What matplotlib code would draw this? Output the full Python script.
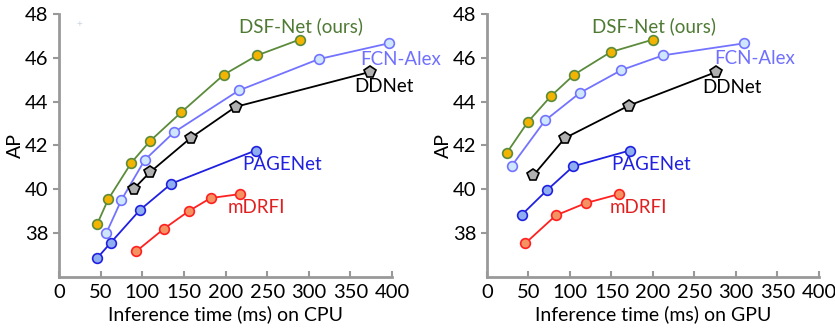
import matplotlib
matplotlib.use('Agg')
import matplotlib.pyplot as plt

plt.rcParams['font.family'] = ['Lato', 'DejaVu Sans']

# CPU timings (ms) and AP
cpu_dsf_t = [46, 59, 87, 109, 147, 198, 238, 289]
cpu_dsf_ap = [38.43, 39.54, 41.22, 42.19, 43.52, 45.23, 46.11, 46.83]
cpu_fcn_t = [57, 75, 103, 138, 216, 312, 396]
cpu_fcn_ap = [38.02, 39.52, 41.34, 42.60, 44.51, 45.94, 46.66]
cpu_dd_t = [90, 109, 158, 212, 373]
cpu_dd_ap = [40.03, 40.77, 42.34, 43.76, 45.35]
cpu_page_t = [46, 62, 97, 135, 236]
cpu_page_ap = [36.87, 37.56, 39.05, 40.26, 41.77]
cpu_mdrfi_t = [93, 126, 156, 182, 217]
cpu_mdrfi_ap = [37.18, 38.20, 39.01, 39.60, 39.78]

# GPU timings (ms) and AP
gpu_dsf_t = [24, 49, 77, 105, 149, 200]
gpu_dsf_ap = [41.67, 43.06, 44.25, 45.23, 46.26, 46.83]
gpu_fcn_t = [30, 70, 112, 162, 212, 310]
gpu_fcn_ap = [41.08, 43.14, 44.40, 45.44, 46.11, 46.66]
gpu_dd_t = [56, 94, 171, 276]
gpu_dd_ap = [40.64, 42.34, 43.82, 45.35]
gpu_page_t = [42, 72, 104, 172]
gpu_page_ap = [38.84, 39.95, 41.05, 41.77]
gpu_mdrfi_t = [46, 83, 119, 159]
gpu_mdrfi_ap = [37.53, 38.81, 39.37, 39.78]

names = ['DSF-Net (ours)', 'FCN-Alex', 'DDNet', 'PAGENet', 'mDRFI']
cpu_label_pos = [(216, 47.42), (362, 45.9), (355, 44.68), (220, 41.12), (203, 39.19)]
gpu_label_pos = [(127, 47.42), (274, 45.97), (259, 44.65), (150, 41.12), (148, 39.19)]

# line color, marker face, marker, text color
styles = [
    ('#5B8B3B', '#F2B400', 'o', '#4E7A33'),
    ('#7373FF', '#CFE6FF', 'o', '#7070FF'),
    ('#000000', '#B0B0B0', 'p', '#000000'),
    ('#2020E0', '#8EAEF0', 'o', '#2020E0'),
    ('#FF2020', '#F49262', 'o', '#E02020'),
]

fig = plt.figure(figsize=(8.35, 3.28), dpi=100)
ax1 = fig.add_axes([0.0707, 0.1555, 0.3988, 0.802])
ax2 = fig.add_axes([0.5832, 0.1555, 0.3976, 0.802])


def draw(ax, series, label_pos, xlabel):
    for (t, ap), (lc, fc, mk, tc), name, (lx, ly) in zip(series, styles, names, label_pos):
        ax.plot(t, ap, color=lc, lw=1.3, marker=mk, ms=7 if mk == 'o' else 8.5,
                mfc=fc, mec=lc, mew=1.2, clip_on=False, zorder=3)
        ax.text(lx, ly, name, color=tc, fontsize=13.5, ha='left', va='center',
                clip_on=False)
    ax.set_xlim(0, 400)
    ax.set_ylim(36, 48)
    ax.set_xticks(range(0, 401, 50))
    ax.set_yticks(range(38, 49, 2))
    for s in ['top', 'right']:
        ax.spines[s].set_visible(False)
    for s in ['left', 'bottom']:
        ax.spines[s].set_color('#999999')
        ax.spines[s].set_linewidth(2)
    ax.tick_params(axis='x', direction='in', length=4, width=1.5, color='#999999',
                   labelsize=14.5, pad=5)
    ax.tick_params(axis='y', direction='out', length=4, width=1.5, color='#999999',
                   labelsize=14.5)
    ax.set_xlabel(xlabel, fontsize=14, labelpad=3)
    ax.set_ylabel('AP', fontsize=14, labelpad=1)


draw(ax1, [(cpu_dsf_t, cpu_dsf_ap), (cpu_fcn_t, cpu_fcn_ap), (cpu_dd_t, cpu_dd_ap),
           (cpu_page_t, cpu_page_ap), (cpu_mdrfi_t, cpu_mdrfi_ap)],
     cpu_label_pos, 'Inference time (ms) on CPU')
draw(ax2, [(gpu_dsf_t, gpu_dsf_ap), (gpu_fcn_t, gpu_fcn_ap), (gpu_dd_t, gpu_dd_ap),
           (gpu_page_t, gpu_page_ap), (gpu_mdrfi_t, gpu_mdrfi_ap)],
     gpu_label_pos, 'Inference time (ms) on GPU')

# faint stray cross in the left panel
ax1.text(25, 47.5, '+', color='#C8D4E0', fontsize=7, ha='center', va='center')

fig.savefig('out.png', dpi=100)
